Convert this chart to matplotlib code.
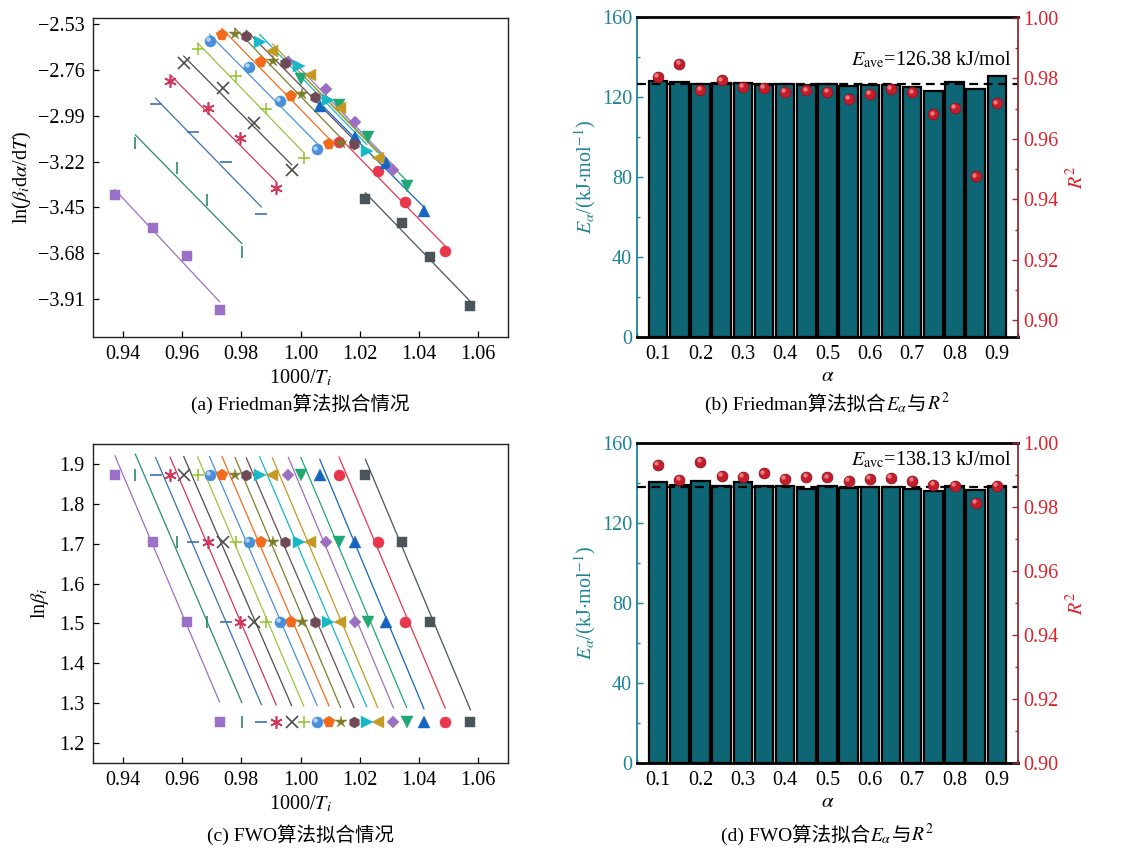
import numpy as np
import matplotlib
matplotlib.use("Agg")
import matplotlib.pyplot as plt
from matplotlib.ticker import MultipleLocator
from matplotlib.transforms import offset_copy

plt.rcParams["font.family"] = ["Liberation Serif", "Noto Sans CJK SC"]
plt.rcParams["mathtext.fontset"] = "stix"
plt.rcParams["axes.unicode_minus"] = True

# conversion degrees, 0.10 ... 0.90
alpha = [0.10, 0.15, 0.20, 0.25, 0.30, 0.35, 0.40, 0.45, 0.50,
         0.55, 0.60, 0.65, 0.70, 0.75, 0.80, 0.85, 0.90]

# ln(beta) of the four heating rates
ln_beta = [1.8718, 1.7047, 1.5041, 1.2528]

# 1000/T for each alpha at the four heating rates
inv_T = [
    [1.0219, 1.0341, 1.0438, 1.0573],
    [1.0130, 1.0262, 1.0354, 1.0488],
    [1.0065, 1.0184, 1.0287, 1.0416],
    [1.0001, 1.0130, 1.0228, 1.0358],
    [0.9959, 1.0087, 1.0183, 1.0313],
    [0.9905, 1.0031, 1.0132, 1.0260],
    [0.9862, 0.9995, 1.0093, 1.0223],
    [0.9817, 0.9946, 1.0049, 1.0180],
    [0.9779, 0.9907, 1.0006, 1.0135],
    [0.9735, 0.9868, 0.9969, 1.0096],
    [0.9693, 0.9826, 0.9930, 1.0056],
    [0.9653, 0.9783, 0.9885, 1.0011],
    [0.9606, 0.9740, 0.9843, 0.9970],
    [0.9560, 0.9688, 0.9797, 0.9918],
    [0.9511, 0.9637, 0.9749, 0.9868],
    [0.9443, 0.9583, 0.9684, 0.9802],
    [0.9374, 0.9504, 0.9616, 0.9727],
]

# ln(beta * dalpha/dT) for the Friedman plot
ln_rate = [
    [-3.408, -3.527, -3.698, -3.945],
    [-3.124, -3.266, -3.422, -3.667],
    [-2.941, -3.097, -3.229, -3.468],
    [-2.807, -2.936, -3.099, -3.343],
    [-2.721, -2.856, -3.020, -3.263],
    [-2.664, -2.786, -2.953, -3.204],
    [-2.619, -2.741, -2.911, -3.166],
    [-2.590, -2.724, -2.895, -3.134],
    [-2.582, -2.714, -2.881, -3.126],
    [-2.585, -2.719, -2.891, -3.132],
    [-2.615, -2.744, -2.916, -3.159],
    [-2.657, -2.789, -2.958, -3.204],
    [-2.724, -2.850, -3.028, -3.263],
    [-2.814, -2.950, -3.104, -3.354],
    [-2.933, -3.070, -3.224, -3.485],
    [-3.129, -3.251, -3.413, -3.676],
    [-3.388, -3.552, -3.694, -3.965],
]

# activation energies and fit quality
ea_friedman = [127.8, 127.5, 126.7, 127.2, 127.2, 126.2, 126.7, 125.8, 126.7,
               125.3, 126.2, 126.2, 125.0, 123.2, 127.5, 124.2, 130.7]
r2_friedman = [0.9804, 0.9849, 0.9763, 0.9794, 0.9771, 0.9768, 0.9755, 0.9760, 0.9755,
               0.9732, 0.9749, 0.9765, 0.9754, 0.9681, 0.9702, 0.9476, 0.9718]
ea_fwo = [140.6, 139.1, 140.9, 138.6, 140.6, 138.2, 138.2, 136.9, 138.6,
          137.2, 137.7, 138.1, 136.9, 136.1, 138.2, 136.4, 138.6]
r2_fwo = [0.9932, 0.9884, 0.9940, 0.9896, 0.9894, 0.9905, 0.9887, 0.9894, 0.9892,
          0.9882, 0.9887, 0.9890, 0.9882, 0.9868, 0.9866, 0.9812, 0.9866]
ea_ave_friedman = 126.38
ea_ave_fwo = 138.13

colors = ["#4a5459", "#e8374d", "#1565c0", "#1fa774", "#9b6fc4", "#c49a22",
          "#17b8c6", "#6d4a55", "#7b7d2a", "#f26b1d", "#4a90d9", "#9ac43c",
          "#4d4d4d", "#d2385b", "#3c6fb4", "#2b8a6a", "#9b70c8"]
markers = ["s", "o", "^", "v", "D", "<", ">", "h", "*", "p", "o", "+",
           "x", (6, 2, 0), "_", "|", "s"]
msizes = [7, 8, 8, 8, 6.5, 8, 8, 8, 9, 8.5, 8, 8, 8, 9, 8, 8, 7]

TEAL = "#1d8495"
BAR = "#0e6574"
RED = "#e0202a"
DARKRED = "#9a2a35"
TICK_FS = 14.5

fig = plt.figure(figsize=(11.3, 8.48), dpi=100)
ax_a = fig.add_axes([0.0823, 0.6026, 0.3673, 0.3762])
ax_b = fig.add_axes([0.5637, 0.6026, 0.3372, 0.3774])
ax_c = fig.add_axes([0.0823, 0.1002, 0.3673, 0.3762])
ax_d = fig.add_axes([0.5637, 0.1002, 0.3372, 0.3776])


def draw_series(ax, ys_list, line_shift=0.0):
    for i in range(len(alpha)):
        x = np.array(inv_T[i])
        y = np.array(ys_list[i])
        k, b = np.polyfit(x, y, 1)
        xs = np.array([x.min(), x.max()])
        ax.plot(xs, k * xs + b + line_shift, color=colors[i], lw=0.9, zorder=2)
        filled = markers[i] not in ("+", "x", "_", "|", (6, 2, 0))
        ax.plot(x, y, ls="none", marker=markers[i], ms=msizes[i], color=colors[i],
                mew=1.2 if not filled else 0.3, mec=colors[i], zorder=3)
        if i == 10:
            # sphere highlight
            tr = offset_copy(ax.transData, fig=fig, x=-1.3, y=1.3, units="points")
            ax.plot(x, y, ls="none", marker="o", ms=3.2, color="#cfe4f7",
                    mew=0, alpha=0.8, transform=tr, zorder=4)


def style_scatter_axes(ax):
    ax.set_xlim(0.93, 1.07)
    ax.set_xticks(np.arange(0.94, 1.061, 0.02))
    ax.set_xticklabels(["0.94", "0.96", "0.98", "1.00", "1.02", "1.04", "1.06"])
    ax.tick_params(direction="in", labelsize=TICK_FS, length=4, width=0.9, pad=6)
    for sp in ax.spines.values():
        sp.set_linewidth(1.0)
        sp.set_color("#222222")
    ax.set_xlabel("1000/$T_i$", fontsize=14.5, labelpad=2)


# (a) Friedman fit
draw_series(ax_a, ln_rate)
style_scatter_axes(ax_a)
ax_a.set_ylim(-4.10, -2.50)
yt = [-2.53, -2.76, -2.99, -3.22, -3.45, -3.68, -3.91]
ax_a.set_yticks(yt)
ax_a.set_yticklabels(["\u2212%.2f" % abs(v) for v in yt])
ax_a.set_ylabel(r"ln($\beta_i$d$\alpha$/d$T$)", fontsize=14.5, labelpad=3)

# (c) FWO fit
draw_series(ax_c, [ln_beta] * len(alpha), line_shift=0.02)
style_scatter_axes(ax_c)
ax_c.set_ylim(1.15, 1.95)
ax_c.set_yticks(np.arange(1.2, 1.91, 0.1))
ax_c.set_yticklabels(["%.1f" % v for v in np.arange(1.2, 1.91, 0.1)])
ax_c.set_ylabel(r"ln$\beta_i$", fontsize=14.5, labelpad=6)


def draw_bars(ax, ea, r2, ea_ave, ave_label, r2_lim):
    ax.bar(alpha, ea, width=0.0434, color=BAR, edgecolor="black", lw=1.6, zorder=2)
    ax.axhline(ea_ave, color="black", lw=1.6, ls=(0, (4, 2.5)), zorder=3)
    ax.set_xlim(0.05, 0.95)
    ax.set_ylim(0, 160)
    ax.set_xticks(np.arange(0.1, 0.91, 0.1))
    ax.set_xticklabels(["%.1f" % v for v in np.arange(0.1, 0.91, 0.1)])
    ax.xaxis.set_minor_locator(MultipleLocator(0.05))
    ax.yaxis.set_major_locator(MultipleLocator(40))
    ax.yaxis.set_minor_locator(MultipleLocator(20))
    ax.tick_params(axis="x", direction="in", labelsize=TICK_FS, length=4, width=1.2, pad=6)
    ax.tick_params(axis="x", which="minor", direction="in", length=3, width=1.0)
    ax.tick_params(axis="y", which="both", direction="in", colors=TEAL, labelsize=TICK_FS,
                   width=1.0)
    ax.tick_params(axis="y", which="major", length=4)
    ax.tick_params(axis="y", which="minor", length=2.5)
    ax.set_xlabel(r"$\alpha$", fontsize=15, labelpad=2)
    ax.set_ylabel(r"$E_\alpha$/(kJ$\cdot$mol$^{-1}$)", fontsize=14.5, color=TEAL, labelpad=3)
    ax.spines["top"].set_linewidth(2.0)
    ax.spines["bottom"].set_linewidth(2.0)
    ax.spines["left"].set_color(TEAL)
    ax.spines["left"].set_linewidth(1.3)
    ax.spines["right"].set_visible(False)
    ax.text(0.935, ave_label[1], ave_label[0], ha="right", va="center", fontsize=14.5,
            zorder=5)

    ax2 = ax.twinx()
    ax2.set_ylim(*r2_lim)
    ticks = np.arange(0.90, 1.001, 0.02)
    ax2.set_yticks(ticks)
    ax2.set_yticklabels(["%.2f" % v for v in ticks])
    ax2.yaxis.set_minor_locator(MultipleLocator(0.01))
    ax2.tick_params(axis="y", which="both", direction="in", colors=DARKRED,
                    labelcolor=RED, labelsize=TICK_FS, width=1.0)
    ax2.tick_params(axis="y", which="major", length=4)
    ax2.tick_params(axis="y", which="minor", length=2.5)
    for side in ("top", "bottom", "left"):
        ax2.spines[side].set_visible(False)
    ax2.spines["right"].set_color(DARKRED)
    ax2.spines["right"].set_linewidth(1.3)
    ax2.set_ylabel(r"$R^2$", fontsize=14.5, color=RED, labelpad=6)
    ax2.scatter(alpha, r2, s=60, color="#c41e2d", edgecolor="#8e1320", lw=0.6, zorder=5)
    tr = offset_copy(ax2.transData, fig=fig, x=-1.2, y=1.2, units="points")
    ax2.scatter(alpha, r2, s=10, color="#f28a8a", lw=0, alpha=0.85, transform=tr, zorder=6)


draw_bars(ax_b, ea_friedman, r2_friedman, ea_ave_friedman,
          (r"$E_{\rm ave}$=126.38 kJ/mol", 138.5), (0.8945, 1.0003))
draw_bars(ax_d, ea_fwo, r2_fwo, ea_ave_fwo,
          (r"$E_{\rm avc}$=138.13 kJ/mol", 151.5), (0.90, 1.00))

# captions, assembled from pieces so Chinese and math can mix
serif_cjk = ["Liberation Serif", "Noto Sans CJK SC"]
renderer = fig.canvas.get_renderer()


def caption(xc, y, parts):
    texts = [fig.text(0, y, s, family=serif_cjk, fontsize=14, va="baseline") for s in parts]
    widths = [t.get_window_extent(renderer).width for t in texts]
    W = fig.bbox.width
    x = xc * W - sum(widths) / 2
    for t, w in zip(texts, widths):
        t.set_x(x / W)
        x += w


caption(0.2659, 1 - 410 / 848, ["(a) Friedman算法拟合情况"])
caption(0.7323, 1 - 410 / 848, ["(b) Friedman算法拟合", r"$E_\alpha$", "与", r"$R^2$"])
caption(0.2659, 1 - 841 / 848, ["(c) FWO算法拟合情况"])
caption(0.7323, 1 - 841 / 848, ["(d) FWO算法拟合", r"$E_\alpha$", "与", r"$R^2$"])

fig.savefig("out.png", dpi=100)
